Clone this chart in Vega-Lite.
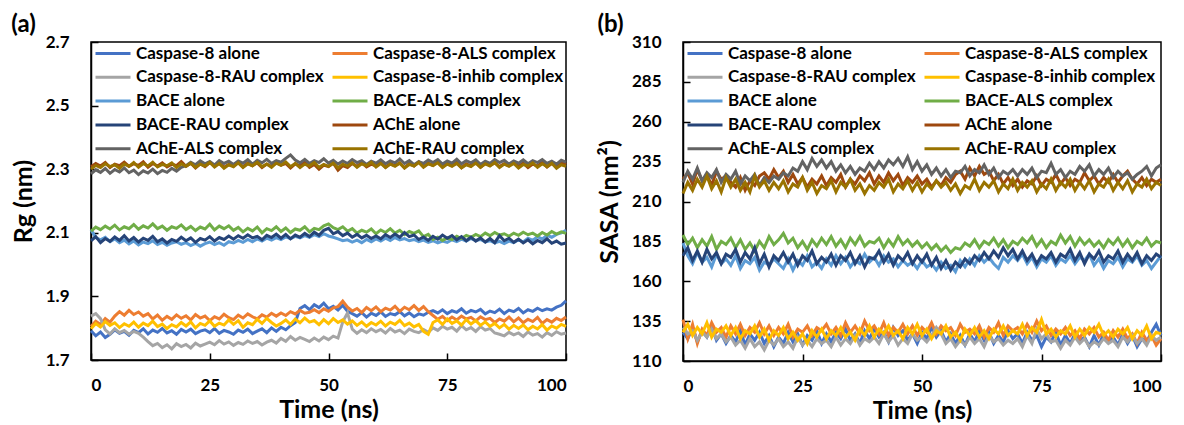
{
"$schema": "https://vega.github.io/schema/vega-lite/v6.json",
"background": "white",
"padding": {"left": 10, "top": 12, "right": 1, "bottom": 0},
"spacing": 23,
"config": {
 "font": "Lato",
 "view": {"stroke": "#000", "strokeWidth": 1.5},
 "axis": {"grid": false, "domainColor": "#000", "domainWidth": 1.5, "tickColor": "#000", "tickWidth": 1.5, "tickSize": -7, "labelFont": "Lato", "labelFontSize": 17, "labelFontWeight": "bold", "labelColor": "#000", "titleFont": "Lato", "titleFontSize": 25, "titleFontWeight": "bold", "titleColor": "#000"},
 "axisX": {"labelPadding": 24, "titlePadding": 4},
 "axisY": {"labelPadding": 29, "titlePadding": 9},
 "legend": {"orient": "top-left", "offset": 3, "padding": 0, "columns": 2, "columnPadding": 7, "rowPadding": 5.8, "clipHeight": 17, "symbolType": "stroke", "symbolSize": 1225, "symbolStrokeWidth": 3, "labelFont": "Lato", "labelFontSize": 17, "labelFontWeight": "bold", "labelColor": "#000", "labelOffset": 4, "labelLimit": 300},
 "title": {"font": "Lato", "fontSize": 24, "fontWeight": "bold", "color": "#000", "anchor": "start", "frame": "bounds", "offset": -4}
},
"resolve": {"scale": {"color": "independent"}, "legend": {"color": "independent"}},
"hconcat": [
{
 "title": {"text": "(a)"},
 "width": 475, "height": 318,
 "data": {"values": "t,a,b,c,d,e,f,g,h,i,j\n0,1.792,1.805,1.838,1.798,2.11,2.105,2.075,2.308,2.285,2.3\n1,1.776,1.822,1.846,1.815,2.085,2.118,2.088,2.318,2.298,2.312\n2,1.788,1.812,1.83,1.804,2.078,2.11,2.069,2.31,2.29,2.305\n3,1.771,1.83,1.795,1.821,2.086,2.121,2.082,2.321,2.302,2.317\n4,1.781,1.819,1.782,1.809,2.072,2.112,2.073,2.305,2.287,2.308\n5,1.795,1.838,1.798,1.817,2.081,2.124,2.087,2.316,2.299,2.314\n6,1.784,1.852,1.786,1.802,2.069,2.109,2.076,2.311,2.291,2.303\n7,1.79,1.841,1.793,1.814,2.077,2.119,2.091,2.322,2.304,2.316\n8,1.778,1.856,1.781,1.806,2.065,2.113,2.074,2.309,2.289,2.309\n9,1.793,1.843,1.79,1.819,2.074,2.126,2.085,2.317,2.297,2.321\n10,1.786,1.851,1.784,1.803,2.062,2.111,2.071,2.312,2.283,2.306\n11,1.798,1.838,1.772,1.816,2.071,2.122,2.083,2.323,2.295,2.318\n12,1.782,1.846,1.758,1.808,2.066,2.115,2.076,2.306,2.288,2.31\n13,1.794,1.829,1.745,1.822,2.075,2.128,2.089,2.318,2.3,2.322\n14,1.787,1.841,1.752,1.805,2.063,2.113,2.072,2.31,2.286,2.307\n15,1.799,1.825,1.739,1.813,2.07,2.121,2.081,2.32,2.296,2.315\n16,1.785,1.837,1.748,1.799,2.061,2.108,2.068,2.307,2.29,2.311\n17,1.792,1.828,1.735,1.811,2.068,2.119,2.079,2.316,2.303,2.32\n18,1.781,1.842,1.751,1.804,2.072,2.114,2.073,2.311,2.294,2.305\n19,1.796,1.831,1.742,1.818,2.064,2.125,2.086,2.324,2.306,2.317\n20,1.788,1.839,1.749,1.807,2.069,2.11,2.075,2.309,2.311,2.309\n21,1.797,1.826,1.738,1.82,2.06,2.12,2.084,2.319,2.322,2.319\n22,1.783,1.843,1.753,1.801,2.067,2.107,2.07,2.304,2.314,2.306\n23,1.791,1.832,1.744,1.815,2.058,2.118,2.082,2.317,2.326,2.316\n24,1.795,1.838,1.75,1.809,2.066,2.112,2.077,2.308,2.317,2.31\n25,1.786,1.824,1.756,1.823,2.071,2.127,2.088,2.321,2.324,2.321\n26,1.799,1.836,1.748,1.806,2.063,2.109,2.074,2.312,2.313,2.307\n27,1.784,1.829,1.761,1.816,2.069,2.121,2.085,2.318,2.327,2.318\n28,1.793,1.844,1.75,1.81,2.061,2.113,2.079,2.306,2.318,2.303\n29,1.788,1.833,1.757,1.826,2.072,2.122,2.09,2.315,2.325,2.314\n30,1.781,1.827,1.746,1.812,2.068,2.108,2.08,2.31,2.315,2.308\n31,1.794,1.841,1.755,1.824,2.076,2.117,2.091,2.322,2.326,2.32\n32,1.787,1.832,1.749,1.803,2.07,2.103,2.083,2.307,2.319,2.305\n33,1.797,1.845,1.76,1.817,2.079,2.114,2.094,2.319,2.33,2.317\n34,1.783,1.836,1.752,1.811,2.072,2.106,2.084,2.311,2.316,2.311\n35,1.791,1.829,1.758,1.828,2.081,2.118,2.089,2.32,2.328,2.322\n36,1.798,1.842,1.747,1.815,2.074,2.1,2.078,2.305,2.32,2.308\n37,1.786,1.835,1.756,1.831,2.083,2.113,2.092,2.316,2.331,2.316\n38,1.801,1.847,1.762,1.818,2.077,2.107,2.085,2.309,2.318,2.306\n39,1.79,1.838,1.753,1.807,2.085,2.119,2.096,2.321,2.327,2.319\n40,1.803,1.848,1.768,1.815,2.079,2.104,2.083,2.313,2.322,2.312\n41,1.795,1.84,1.759,1.826,2.087,2.115,2.095,2.318,2.334,2.323\n42,1.808,1.852,1.774,1.812,2.082,2.101,2.081,2.304,2.345,2.308\n43,1.818,1.845,1.762,1.829,2.089,2.112,2.093,2.317,2.329,2.318\n44,1.862,1.856,1.771,1.817,2.084,2.108,2.086,2.31,2.32,2.305\n45,1.871,1.847,1.765,1.832,2.091,2.119,2.098,2.322,2.331,2.316\n46,1.858,1.85,1.758,1.819,2.086,2.103,2.088,2.306,2.318,2.31\n47,1.874,1.858,1.769,1.824,2.094,2.114,2.102,2.315,2.327,2.321\n48,1.865,1.849,1.76,1.811,2.088,2.11,2.092,2.3,2.321,2.306\n49,1.879,1.861,1.772,1.827,2.097,2.122,2.108,2.313,2.333,2.315\n50,1.861,1.853,1.764,1.814,2.09,2.128,2.114,2.308,2.319,2.309\n51,1.869,1.864,1.775,1.83,2.086,2.116,2.097,2.319,2.328,2.319\n52,1.857,1.868,1.769,1.818,2.081,2.11,2.104,2.297,2.316,2.304\n53,1.872,1.885,1.82,1.826,2.075,2.119,2.091,2.311,2.326,2.316\n54,1.853,1.866,1.848,1.813,2.078,2.105,2.099,2.305,2.318,2.31\n55,1.846,1.854,1.797,1.823,2.071,2.113,2.086,2.318,2.33,2.32\n56,1.838,1.862,1.784,1.809,2.077,2.099,2.095,2.309,2.321,2.306\n57,1.849,1.849,1.795,1.82,2.069,2.108,2.084,2.321,2.327,2.317\n58,1.835,1.865,1.786,1.806,2.079,2.102,2.092,2.307,2.315,2.311\n59,1.847,1.855,1.798,1.818,2.072,2.112,2.082,2.316,2.325,2.322\n60,1.84,1.867,1.789,1.81,2.081,2.097,2.09,2.31,2.319,2.307\n61,1.851,1.852,1.796,1.822,2.074,2.109,2.081,2.322,2.329,2.318\n62,1.837,1.863,1.785,1.807,2.083,2.101,2.094,2.306,2.317,2.305\n63,1.846,1.857,1.799,1.819,2.076,2.113,2.085,2.317,2.326,2.316\n64,1.842,1.869,1.788,1.812,2.085,2.099,2.096,2.311,2.32,2.309\n65,1.852,1.853,1.794,1.825,2.078,2.108,2.086,2.32,2.332,2.319\n66,1.839,1.866,1.783,1.808,2.082,2.094,2.101,2.304,2.318,2.304\n67,1.848,1.858,1.797,1.816,2.075,2.104,2.088,2.318,2.327,2.315\n68,1.836,1.871,1.79,1.804,2.079,2.098,2.093,2.31,2.314,2.31\n69,1.845,1.856,1.786,1.812,2.072,2.106,2.079,2.323,2.324,2.321\n70,1.841,1.868,1.796,1.79,2.077,2.088,2.087,2.308,2.318,2.306\n71,1.85,1.852,1.787,1.781,2.07,2.095,2.076,2.319,2.329,2.317\n72,1.855,1.84,1.801,1.818,2.075,2.079,2.089,2.312,2.321,2.311\n73,1.848,1.828,1.793,1.826,2.068,2.086,2.08,2.324,2.33,2.32\n74,1.858,1.837,1.806,1.812,2.074,2.076,2.093,2.307,2.316,2.305\n75,1.846,1.824,1.797,1.829,2.07,2.084,2.083,2.318,2.326,2.316\n76,1.855,1.835,1.803,1.815,2.078,2.079,2.091,2.311,2.319,2.309\n77,1.85,1.826,1.791,1.823,2.072,2.089,2.078,2.321,2.331,2.318\n78,1.861,1.838,1.808,1.81,2.08,2.082,2.088,2.305,2.317,2.304\n79,1.847,1.829,1.795,1.827,2.074,2.092,2.075,2.317,2.327,2.314\n80,1.856,1.834,1.802,1.813,2.082,2.086,2.086,2.31,2.32,2.308\n81,1.851,1.823,1.79,1.824,2.076,2.095,2.074,2.322,2.329,2.319\n82,1.859,1.836,1.805,1.809,2.079,2.088,2.084,2.306,2.315,2.306\n83,1.845,1.827,1.794,1.82,2.071,2.099,2.071,2.318,2.325,2.317\n84,1.854,1.831,1.799,1.806,2.075,2.091,2.082,2.312,2.318,2.31\n85,1.849,1.818,1.785,1.815,2.068,2.101,2.069,2.32,2.33,2.321\n86,1.86,1.829,1.781,1.801,2.073,2.093,2.091,2.308,2.321,2.305\n87,1.846,1.822,1.776,1.812,2.066,2.097,2.075,2.317,2.328,2.316\n88,1.857,1.835,1.787,1.797,2.074,2.089,2.083,2.311,2.316,2.309\n89,1.852,1.82,1.779,1.809,2.069,2.099,2.07,2.323,2.326,2.318\n90,1.862,1.832,1.785,1.799,2.078,2.092,2.08,2.309,2.319,2.304\n91,1.848,1.817,1.774,1.81,2.071,2.102,2.068,2.319,2.329,2.315\n92,1.858,1.828,1.788,1.795,2.083,2.094,2.078,2.305,2.317,2.31\n93,1.853,1.821,1.778,1.806,2.076,2.099,2.065,2.316,2.327,2.32\n94,1.863,1.834,1.783,1.798,2.088,2.09,2.076,2.31,2.321,2.306\n95,1.855,1.815,1.772,1.811,2.08,2.101,2.069,2.321,2.33,2.317\n96,1.861,1.827,1.786,1.794,2.092,2.093,2.081,2.307,2.318,2.308\n97,1.857,1.819,1.777,1.807,2.086,2.104,2.067,2.318,2.325,2.319\n98,1.866,1.831,1.789,1.8,2.095,2.096,2.074,2.312,2.316,2.303\n99,1.872,1.824,1.781,1.812,2.1,2.103,2.064,2.322,2.328,2.314\n100,1.886,1.835,1.785,1.806,2.108,2.098,2.068,2.315,2.322,2.309",
  "format": {"type": "csv", "parse": {"t": "number", "a": "number", "b": "number", "c": "number", "d": "number", "e": "number", "f": "number", "g": "number", "h": "number", "i": "number", "j": "number"}}},
 "transform": [{"fold": ["a", "b", "c", "d", "e", "f", "g", "h", "i", "j"], "as": ["k", "v"]}],
 "mark": {"type": "line", "strokeWidth": 3},
 "encoding": {
  "x": {"field": "t", "type": "quantitative", "scale": {"domain": [0, 100], "nice": false}, "axis": {"values": [0, 25, 50, 75, 100], "title": "Time (ns)"}},
  "y": {"field": "v", "type": "quantitative", "scale": {"domain": [1.7, 2.7], "nice": false, "zero": false}, "axis": {"values": [1.7, 1.9, 2.1, 2.3, 2.5, 2.7], "format": ".1f", "title": "Rg (nm)"}},
  "color": {"field": "k", "type": "nominal",
   "scale": {"domain": ["a", "c", "e", "g", "i", "b", "d", "f", "h", "j"], "range": ["#4472C4", "#A5A5A5", "#5B9BD5", "#264478", "#636363", "#ED7D31", "#FFC000", "#70AD47", "#9E480E", "#997300"]},
   "legend": {"title": null, "labelExpr": "{'a':'Caspase-8 alone','b':'Caspase-8-ALS complex','c':'Caspase-8-RAU complex','d':'Caspase-8-inhib complex','e':'BACE alone','f':'BACE-ALS complex','g':'BACE-RAU complex','h':'AChE alone','i':'AChE-ALS complex','j':'AChE-RAU complex'}[datum.value]"}}
 }
},
{
 "title": {"text": "(b)"},
 "width": 478, "height": 319,
 "data": {"values": "t,a,b,c,d,e,f,g,h,i,j\n0,128,136,131,128,184,189,176,224,222,215\n1,124,124,127,133,176,183,181,228,229,222\n2,131,133,129,126,171,187,173,221,224,217\n3,122,121,123,131,178,181,179,230,231,224\n4,129,130,128,127,172,186,172,223,223,219\n5,125,126,125,134,175,182,180,227,228,226\n6,132,134,130,125,169,188,174,220,225,218\n7,123,128,124,130,177,180,178,229,230,223\n8,127,131,127,128,171,185,171,224,222,216\n9,121,125,122,132,174,183,177,226,227,225\n10,126,132,125,126,170,187,175,222,224,219\n11,122,127,120,131,176,181,180,219,229,224\n12,129,133,123,124,168,186,172,225,221,217\n13,120,126,118,129,173,180,178,217,226,222\n14,127,131,124,127,171,184,174,223,223,216\n15,123,128,119,132,175,179,181,220,227,226\n16,128,134,122,125,167,185,171,226,220,219\n17,121,127,117,130,172,181,177,228,225,223\n18,126,132,123,123,170,188,169,224,222,217\n19,119,126,120,129,174,183,176,230,226,222\n20,125,131,124,126,171,186,173,225,224,218\n21,121,127,119,131,168,190,178,229,228,223\n22,128,133,122,124,174,184,172,222,226,216\n23,122,125,118,128,167,187,177,227,231,221\n24,127,130,125,123,173,181,170,221,229,219\n25,120,128,120,127,170,185,176,225,235,225\n26,126,132,123,121,176,180,173,219,230,217\n27,123,126,119,129,169,186,179,224,237,222\n28,129,131,124,125,172,182,171,221,232,215\n29,121,129,121,130,168,187,175,226,236,220\n30,127,133,123,124,174,183,172,220,231,218\n31,122,127,119,129,170,188,177,225,235,223\n32,128,131,125,126,176,182,170,222,229,216\n33,124,126,120,131,171,186,176,227,233,222\n34,130,134,124,125,175,181,173,219,228,219\n35,123,128,121,128,169,187,178,224,232,224\n36,127,132,126,123,173,183,171,221,227,217\n37,121,127,120,130,171,188,176,226,231,221\n38,129,135,124,126,177,182,169,223,229,215\n39,124,129,122,132,172,185,175,228,234,220\n40,130,132,125,125,175,184,174,221,230,217\n41,125,127,121,130,170,187,179,226,235,222\n42,128,134,127,127,176,181,172,222,231,219\n43,122,126,122,132,172,186,177,228,236,224\n44,131,131,126,126,174,182,170,223,233,216\n45,126,128,120,129,169,188,176,227,237,221\n46,129,133,124,124,173,183,173,220,232,218\n47,123,127,121,131,170,186,178,225,238,223\n48,127,132,127,127,172,182,171,222,230,217\n49,121,126,123,133,168,185,176,226,235,222\n50,128,131,125,126,173,181,172,221,229,216\n51,124,128,122,130,169,184,177,224,233,221\n52,131,134,126,124,171,180,170,219,227,218\n53,125,127,131,129,167,183,175,223,231,223\n54,129,132,127,127,172,179,168,220,226,219\n55,122,129,121,132,168,182,173,225,230,222\n56,127,131,124,125,170,178,167,222,225,217\n57,121,126,119,128,166,181,172,227,229,221\n58,126,133,123,123,173,180,169,229,228,215\n59,120,128,120,130,169,184,174,224,232,220\n60,127,130,125,126,174,182,171,231,226,218\n61,122,127,121,131,170,186,176,226,230,224\n62,129,132,124,125,176,181,173,232,228,217\n63,123,125,119,129,172,185,178,227,233,222\n64,128,131,126,124,175,183,174,229,227,219\n65,121,128,122,130,171,187,179,223,231,223\n66,126,134,124,127,168,182,175,227,225,216\n67,122,126,120,132,175,186,181,221,229,221\n68,129,132,123,126,172,181,176,225,227,218\n69,124,129,121,129,176,185,180,220,230,224\n70,127,131,124,127,173,183,174,224,226,217\n71,121,127,119,133,177,187,179,219,230,222\n72,128,133,126,126,171,184,173,223,227,219\n73,123,128,121,131,175,188,177,221,231,223\n74,126,135,130,128,169,182,171,226,225,216\n75,119,129,124,136,174,186,176,220,229,221\n76,125,132,127,127,172,181,174,224,228,218\n77,122,126,122,130,176,185,178,222,234,224\n78,128,130,123,125,170,183,172,227,227,217\n79,120,127,118,129,174,189,177,221,230,222\n80,126,131,123,127,172,184,175,225,225,219\n81,121,126,120,132,176,188,180,220,229,224\n82,127,129,125,125,171,182,173,224,227,217\n83,122,124,121,130,175,187,178,222,232,222\n84,125,130,124,126,173,183,171,228,229,218\n85,119,127,119,131,177,186,177,223,233,223\n86,126,131,122,128,170,182,174,226,226,216\n87,120,125,120,133,174,185,179,221,230,221\n88,127,128,124,126,168,181,172,225,227,219\n89,122,123,121,129,173,186,176,222,231,224\n90,125,129,123,125,171,183,174,227,225,217\n91,120,125,119,130,175,187,179,222,229,222\n92,127,130,125,127,169,182,172,226,226,218\n93,121,124,122,131,174,186,177,229,228,223\n94,126,127,126,124,172,181,173,224,224,216\n95,119,121,121,129,176,185,178,221,227,221\n96,124,128,124,126,170,183,171,225,229,219\n97,122,123,120,132,173,187,176,220,232,224\n98,128,126,126,124,168,182,173,224,226,218\n99,133,120,123,128,172,185,177,222,231,222\n100,126,124,125,127,176,184,175,224,233,220",
  "format": {"type": "csv", "parse": {"t": "number", "a": "number", "b": "number", "c": "number", "d": "number", "e": "number", "f": "number", "g": "number", "h": "number", "i": "number", "j": "number"}}},
 "transform": [{"fold": ["a", "b", "c", "d", "e", "f", "g", "h", "i", "j"], "as": ["k", "v"]}],
 "mark": {"type": "line", "strokeWidth": 3},
 "encoding": {
  "x": {"field": "t", "type": "quantitative", "scale": {"domain": [0, 100], "nice": false}, "axis": {"values": [0, 25, 50, 75, 100], "title": "Time (ns)"}},
  "y": {"field": "v", "type": "quantitative", "scale": {"domain": [110, 310], "nice": false, "zero": false}, "axis": {"values": [110, 135, 160, 185, 210, 235, 260, 285, 310], "title": "SASA (nm²)"}},
  "color": {"field": "k", "type": "nominal",
   "scale": {"domain": ["a", "c", "e", "g", "i", "b", "d", "f", "h", "j"], "range": ["#4472C4", "#A5A5A5", "#5B9BD5", "#264478", "#636363", "#ED7D31", "#FFC000", "#70AD47", "#9E480E", "#997300"]},
   "legend": {"title": null, "labelExpr": "{'a':'Caspase-8 alone','b':'Caspase-8-ALS complex','c':'Caspase-8-RAU complex','d':'Caspase-8-inhib complex','e':'BACE alone','f':'BACE-ALS complex','g':'BACE-RAU complex','h':'AChE alone','i':'AChE-ALS complex','j':'AChE-RAU complex'}[datum.value]"}}
 }
}
]
}
